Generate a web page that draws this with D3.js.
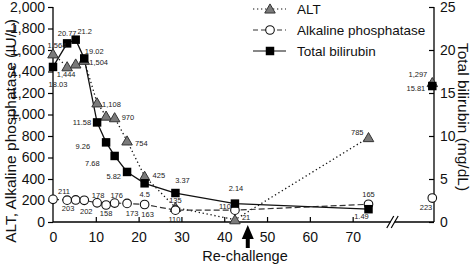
<!DOCTYPE html>
<html><head><meta charset="utf-8">
<script src="https://cdn.jsdelivr.net/npm/d3@7"></script>
<style>
body{margin:0;background:#fff;}
svg{display:block;font-family:"Liberation Sans",Arial,sans-serif;}
</style></head>
<body><svg id="c" width="473" height="266"></svg>
<script>
// ---- data ----
const days = [0, 3.3, 5.3, 7.3, 10.3, 12.4, 14.4, 17.3, 21.4, 28.6, 42.5, 73.7];
const altValues = [1564, 1444, 1470, 1504, 1108, 985, 970, 754, 425, 135, 21, 785];
const altLabels = ["1,564", "1,444", "", "1,504", "1,108", "", "970", "754", "425", "135", "21", "785"];
const alpValues = [211, 203, 205, 202, 178, 158, 176, 173, 163, 110, 110, 165];
const alpLabels = ["211", "203", "", "202", "178", "158", "176", "173", "163", "110", "110", "165"];
const tbilValues = [18.03, 20.77, 21.2, 19.02, 11.58, 9.26, 7.68, 5.82, 4.5, 3.37, 2.14, 1.49];
const tbilLabels = ["18.03", "20.77", "21.2", "19.02", "11.58", "9.26", "7.68", "5.82", "4.5", "3.37", "2.14", "1.49"];
// value measured after the axis break
const afterBreakDay = 88.6;
const altAfter = 1297, alpAfter = 223, tbilAfter = 15.81;
const xTicks = [0, 10, 20, 30, 40, 50, 60, 70];
const yLeftTicks = [0, 200, 400, 600, 800, 1000, 1200, 1400, 1600, 1800, 2000];
const yRightTicks = [0, 5, 10, 15, 20, 25];
const rechallengeDay = 45.5;
const seriesNames = ["ALT", "Alkaline phosphatase", "Total bilirubin"];

// ---- label offsets (layout only) ----
const altOff = [[4,-9,"middle"],[-1,8,"middle"],null,[5,2,"start"],[5,1,"start"],null,[7,0,"start"],[8,2,"start"],[8,-1,"start"],[0,-7,"middle"],[7,-2,"start"],[-5,-5,"end"]];
const alpOff = [[11,-8,"middle"],[1,8,"middle"],null,[2,11,"middle"],[1,-8,"middle"],[0,8,"middle"],[2,-8,"middle"],[5,10,"middle"],[3,10,"middle"],[-1,9,"middle"],[-4,-4,"end"],[0,-10,"middle"]];
const tbilOff = [[5,17,"middle"],[0,-10,"middle"],[9,-8,"middle"],[10,-7,"middle"],[-6,0,"end"],[-16,4,"end"],[-15,7,"end"],[-6,4,"end"],[0,11,"middle"],[7,-13,"middle"],[1,-15,"middle"],[-7,7,"middle"]];

const svg = d3.select("#c");
const L = 53, R = 434, T = 7, B = 222;
const x = d3.scaleLinear().domain([0, 89]).range([L, R]);
const yL = d3.scaleLinear().domain([0, 2000]).range([B, T]);
const yR = d3.scaleLinear().domain([0, 25]).range([B, T]);

// axes
const gL = svg.append("g").attr("transform", `translate(${L},0)`)
  .call(d3.axisLeft(yL).tickValues(yLeftTicks).tickSize(5).tickPadding(3).tickFormat(d3.format(",")));
const gR = svg.append("g").attr("transform", `translate(${R},0)`)
  .call(d3.axisRight(yR).tickValues(yRightTicks).tickSize(-5).tickPadding(6));
const gX = svg.append("g").attr("transform", `translate(0,${B})`)
  .call(d3.axisBottom(x).tickValues(xTicks).tickSize(-5).tickPadding(10));
[gL, gR, gX].forEach(g => {
  g.selectAll(".domain").attr("stroke", "#000").attr("stroke-width", 1.3);
  g.selectAll(".tick line").attr("stroke", "#000").attr("stroke-width", 1.2);
  g.selectAll(".tick text").attr("font-size", 14).attr("fill", "#111").attr("font-family", "Liberation Sans, Arial, sans-serif");
});
gX.select(".domain").attr("d", `M${L},0H${R}`);
gL.select(".domain").attr("d", `M0,${B}V${T}`);
gR.select(".domain").attr("d", `M0,${B}V${T}`);
gX.selectAll(".tick").filter(d => d === 0).select("line").remove();

// axis break
const bx = x(79.3);
svg.append("rect").attr("x", bx - 2).attr("y", B - 2).attr("width", 4).attr("height", 4).attr("fill", "#fff");
[-2.2, 2.2].forEach(o => svg.append("line")
  .attr("x1", bx + o - 3.5).attr("y1", B + 6).attr("x2", bx + o + 3.5).attr("y2", B - 6)
  .attr("stroke", "#000").attr("stroke-width", 1.2));

// titles
svg.append("text").attr("transform", `translate(16,131) rotate(-90)`).attr("text-anchor", "middle")
  .attr("font-size", 15.5).attr("fill", "#111").text("ALT, Alkaline phosphatase (IU/L)");
svg.append("text").attr("transform", `translate(458,117) rotate(90)`).attr("text-anchor", "middle")
  .attr("font-size", 15.5).attr("fill", "#111").text("Total bilirubin (mg/dL)");

// re-challenge arrow
const ax = x(rechallengeDay);
svg.append("path").attr("d", `M${ax},225 L${ax+6},239 L${ax+2},239 L${ax+2},248 L${ax-2},248 L${ax-2},239 L${ax-6},239 Z`).attr("fill", "#000");
svg.append("text").attr("x", 245).attr("y", 261).attr("text-anchor", "middle").attr("font-size", 14.5).attr("fill", "#111").text("Re-challenge");

// series
const idx = d3.range(days.length);
const lineL = vals => d3.line().x(i => x(days[i])).y(i => yL(vals[i]));
const lineR = vals => d3.line().x(i => x(days[i])).y(i => yR(vals[i]));

svg.append("path").attr("d", lineL(altValues)(idx)).attr("fill", "none").attr("stroke", "#111").attr("stroke-width", 1.3).attr("stroke-dasharray", "1.3,2.7");
svg.append("path").attr("d", lineL(alpValues)(idx)).attr("fill", "none").attr("stroke", "#333").attr("stroke-width", 1.2).attr("stroke-dasharray", "6,3");
svg.append("path").attr("d", lineR(tbilValues)(idx)).attr("fill", "none").attr("stroke", "#111").attr("stroke-width", 1.3);

const tri = d3.symbol().type(d3.symbolTriangle).size(48);
const sq = d3.symbol().type(d3.symbolSquare).size(72);
function drawTri(cx, cy){ svg.append("path").attr("d", tri()).attr("transform", `translate(${cx},${cy+1})`).attr("fill", "#7a7a7a").attr("stroke", "#333").attr("stroke-width", 1); }
function drawCirc(cx, cy){ svg.append("circle").attr("cx", cx).attr("cy", cy).attr("r", 4.3).attr("fill", "#fff").attr("stroke", "#111").attr("stroke-width", 1.1); }
function drawSq(cx, cy){ svg.append("path").attr("d", sq()).attr("transform", `translate(${cx},${cy})`).attr("fill", "#000"); }

idx.forEach(i => drawTri(x(days[i]), yL(altValues[i])));
idx.forEach(i => drawCirc(x(days[i]), yL(alpValues[i])));
idx.forEach(i => drawSq(x(days[i]), yR(tbilValues[i])));
drawTri(x(afterBreakDay), yL(altAfter));
drawCirc(x(afterBreakDay), yL(alpAfter));
drawSq(x(afterBreakDay), yR(tbilAfter));

// data labels
function lab(px, py, off, t){
  if(!off || !t) return;
  svg.append("text").attr("x", px + off[0]).attr("y", py + off[1] + 2.7).attr("text-anchor", off[2])
    .attr("font-size", 7.5).attr("fill", "#222").text(t);
}
idx.forEach(i => lab(x(days[i]), yL(altValues[i]), altOff[i], altLabels[i]));
idx.forEach(i => lab(x(days[i]), yL(alpValues[i]), alpOff[i], alpLabels[i]));
idx.forEach(i => lab(x(days[i]), yR(tbilValues[i]), tbilOff[i], tbilLabels[i]));
lab(x(afterBreakDay), yL(altAfter), [-5,-8,"end"], "1,297");
lab(x(afterBreakDay), yL(alpAfter), [0,9,"end"], "223");
lab(x(afterBreakDay), yR(tbilAfter), [-7,2,"end"], "15.81");

// legend
const legY = [9, 30, 51];
const lg = svg.append("g");
legY.forEach((ly, k) => {
  const ln = lg.append("line").attr("x1", 253).attr("x2", 286).attr("y1", ly).attr("y2", ly).attr("stroke", "#111").attr("stroke-width", 1.2);
  if(k === 0) ln.attr("stroke-dasharray", "1.3,2.7");
  if(k === 1) ln.attr("stroke-dasharray", "5,3").attr("stroke", "#333");
  if(k === 0) drawTri(270, ly);
  if(k === 1) drawCirc(270, ly);
  if(k === 2) drawSq(270, ly);
  lg.append("text").attr("x", 297).attr("y", ly + 5).attr("font-size", 13.5).attr("fill", "#111").text(seriesNames[k]);
});
</script></body></html>
